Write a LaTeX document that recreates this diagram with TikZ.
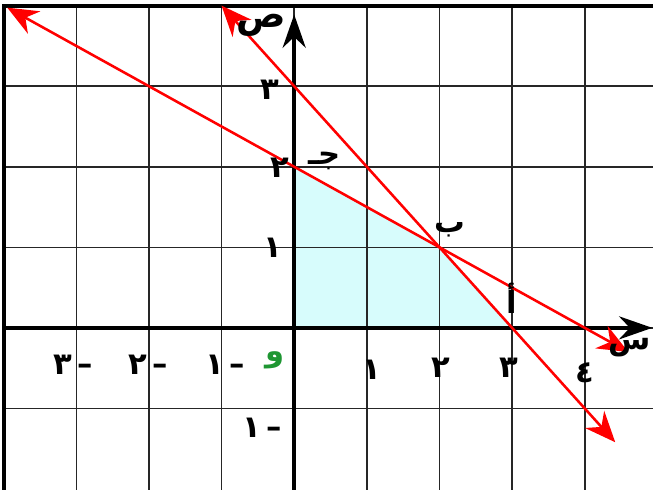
\documentclass[tikz,border=0pt]{standalone}
\usepackage{fontspec}
\newfontfamily\arabicfont[Script=Arabic]{DejaVu Sans}
\TeXXeTstate=1
\usetikzlibrary{arrows.meta}
\definecolor{regioncyan}{RGB}{215,252,252}
\definecolor{origingreen}{RGB}{30,150,50}
\tikzset{
  gridline/.style={draw=black!85, line width=0.6pt},
  frameline/.style={draw=black, line width=1.5pt},
  axisline/.style={black, line width=1.6pt, -{Stealth[length=13pt,width=9pt]}},
  redline/.style={red, line width=1pt, {Stealth[length=12pt,width=10pt]}-{Stealth[length=12pt,width=10pt]}},
  lbl/.style={font=\arabicfont\large\bfseries, inner sep=0pt},
}

\begin{document}
\begin{tikzpicture}[x=1cm, y=1.109cm]
  \useasboundingbox (-4.05,-2.01) rectangle (4.94,4.07);

  % feasible region
  \fill[regioncyan] (0,0) -- (3,0) -- (2,1) -- (0,2) -- cycle;

  % grid
  \foreach \i in {-3,...,4} \draw[gridline] (\i,-2.01) -- (\i,4);
  \foreach \j in {-1,...,3} \draw[gridline] (-4,\j) -- (4.94,\j);
  \draw[frameline] (-4,-2.01) -- (-4,4) -- (4.94,4);

  % axes
  \coordinate (xs) at (-4,0);
  \coordinate (xe) at (4.93,0);
  \coordinate (ys) at (0,-2.01);
  \coordinate (ye) at (0,3.89);
  \draw[axisline] (xs) -- (xe);
  \draw[axisline] (ys) -- (ye);

  % the two lines
  \coordinate (pa) at (-1,4);
  \coordinate (pb) at (4.42,-1.42);
  \coordinate (qa) at (-3.95,3.975);
  \coordinate (qb) at (4.6,-0.3);
  \draw[redline] (pa) -- (pb);
  \draw[redline] (qa) -- (qb);

  % axis names
  \node[lbl, font=\arabicfont\Large\bfseries] (sad) at (-0.45,3.75) {ص};
  \node[lbl] (sin) at (4.62,-0.24) {س};
  \node[lbl, text=origingreen] (waw) at (-0.26,-0.4) {و};

  % tick labels
  \node[lbl] (x1) at (1.07,-0.52) {١};
  \node[lbl] (x2) at (2.02,-0.5) {٢};
  \node[lbl] (x3) at (2.95,-0.5) {٣};
  \node[lbl] (x4) at (4.0,-0.56) {٤};
  \node[lbl] (xm1) at (-0.95,-0.46) {\beginR –\,١\endR};
  \node[lbl] (xm2) at (-2.01,-0.46) {\beginR –\,٢\endR};
  \node[lbl] (xm3) at (-3.04,-0.46) {\beginR –\,٣\endR};
  \node[lbl] (y1) at (-0.29,1.0) {١};
  \node[lbl] (y2) at (-0.2,1.99) {٢};
  \node[lbl] (y3) at (-0.33,2.96) {٣};
  \node[lbl] (ym1) at (-0.44,-1.24) {\beginR –\,١\endR};

  % vertices
  \node[lbl] (jim) at (0.42,2.07) {\beginR جـ\endR};
  \node[lbl] (ba) at (2.15,1.22) {ب};
  \node[lbl] (alif) at (3.0,0.37) {أ};
\end{tikzpicture}
\end{document}
